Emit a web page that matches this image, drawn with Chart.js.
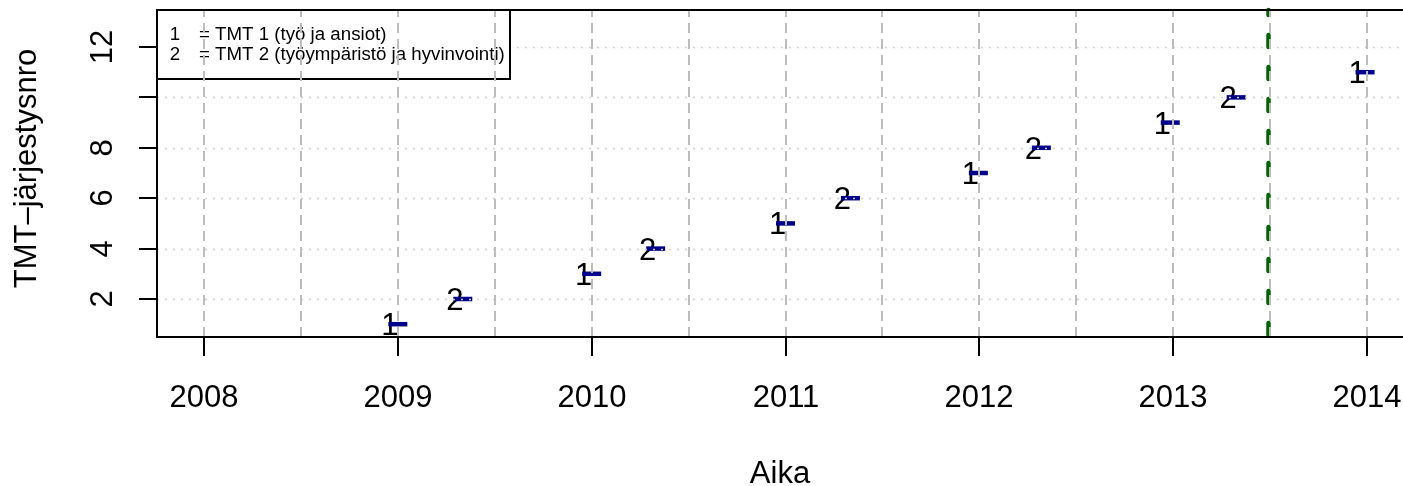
<!DOCTYPE html>
<html>
<head>
<meta charset="utf-8">
<script src="https://cdn.jsdelivr.net/npm/chart.js@4/dist/chart.umd.min.js"></script>
<style>
  html, body { margin: 0; padding: 0; background: #fff; }
  #wrap { width: 1403px; height: 486px; position: relative; }
</style>
</head>
<body>
<div id="wrap"><canvas id="tmt-chart"></canvas></div>
<script>
// julkaisut: aika (vuosi desimaalina), TMT-tyyppi ja järjestysnumero
const releaseTimes = [2009.0, 2009.335, 2010.0, 2010.33, 2011.0, 2011.335, 2011.995, 2012.32, 2012.985, 2013.325, 2013.99];
const tmtTypes = ["1", "2", "1", "2", "1", "2", "1", "2", "1", "2", "1"];
const orderNumbers = [1, 2, 3, 4, 5, 6, 7, 8, 9, 10, 11];

const cutoffTime = 2013.49;

const xTickYears = [2008, 2009, 2010, 2011, 2012, 2013, 2014];
const xGridLines = [2008, 2008.5, 2009, 2009.5, 2010, 2010.5, 2011, 2011.5, 2012, 2012.5, 2013, 2013.5, 2014];
const yTicks = [2, 4, 6, 8, 10, 12];
const yTickLabels = ["2", "4", "6", "8", "", "12"];

const legendKeys = ["1", "2"];
const legendTexts = ["= TMT 1 (työ ja ansiot)", "= TMT 2 (työympäristö ja hyvinvointi)"];

const FONT = "'Liberation Sans', Arial, Helvetica, sans-serif";

const rPlot = {
  id: "rPlot",
  beforeDatasetsDraw(chart) {
    const { ctx, chartArea: a, scales: { x, y } } = chart;
    ctx.save();
    // raja-aika, vihreä katkoviiva
    const gx = Math.round(x.getPixelForValue(cutoffTime)) + 0.5;
    ctx.strokeStyle = "#006400";
    ctx.lineWidth = 4.5;
    ctx.lineCap = "round";
    ctx.setLineDash([12, 20]);
    ctx.beginPath();
    ctx.moveTo(gx, a.bottom - 2);
    ctx.lineTo(gx, a.top);
    ctx.stroke();
    ctx.setLineDash([]);
    ctx.lineCap = "butt";

    // pisteiden tunnukset
    const meta = chart.getDatasetMeta(0);
    ctx.fillStyle = "#000";
    ctx.font = "31px " + FONT;
    ctx.textAlign = "center";
    ctx.textBaseline = "alphabetic";
    meta.data.forEach((pt, i) => {
      ctx.fillText(tmtTypes[i], pt.x - 8, pt.y + 11);
    });
    ctx.restore();
  },
  afterDatasetsDraw(chart) {
    const { ctx, chartArea: a, scales: { x, y } } = chart;
    ctx.save();

    // vaakasuora pisteviiva
    ctx.strokeStyle = "#cfcfcf";
    ctx.lineWidth = 1.6;
    ctx.setLineDash([2, 6]);
    yTicks.forEach(v => {
      const py = Math.round(y.getPixelForValue(v)) + 0.5;
      ctx.beginPath();
      ctx.moveTo(a.left, py);
      ctx.lineTo(a.right, py);
      ctx.stroke();
    });
    ctx.setLineDash([]);

    // selite
    const lx0 = a.left, ly0 = a.top, lx1 = 510, ly1 = 79;
    ctx.fillStyle = "#fff";
    ctx.fillRect(lx0, ly0, lx1 - lx0, ly1 - ly0);
    ctx.strokeStyle = "#000";
    ctx.lineWidth = 2;
    ctx.strokeRect(lx0, ly0, lx1 - lx0, ly1 - ly0);
    ctx.fillStyle = "#000";
    ctx.font = "18.7px " + FONT;
    ctx.textBaseline = "alphabetic";
    legendKeys.forEach((k, i) => {
      const by = 40 + i * 20;
      ctx.textAlign = "center";
      ctx.fillText(k, 175, by);
      ctx.textAlign = "left";
      ctx.fillText(legendTexts[i], 199, by);
    });

    // pystysuora katkoviiva
    ctx.strokeStyle = "#bdbdbd";
    ctx.lineWidth = 2;
    ctx.setLineDash([10, 6]);
    xGridLines.forEach(v => {
      const px = Math.round(x.getPixelForValue(v));
      ctx.beginPath();
      ctx.moveTo(px, a.bottom);
      ctx.lineTo(px, a.top);
      ctx.stroke();
    });
    ctx.setLineDash([]);

    // kehys
    ctx.strokeStyle = "#000";
    ctx.lineWidth = 2;
    ctx.beginPath();
    ctx.moveTo(a.right + 1, a.top);
    ctx.lineTo(a.left, a.top);
    ctx.lineTo(a.left, a.bottom);
    ctx.lineTo(a.right + 1, a.bottom);
    ctx.stroke();

    // x-akseli
    ctx.font = "31px " + FONT;
    ctx.textAlign = "center";
    ctx.textBaseline = "alphabetic";
    xTickYears.forEach(v => {
      const px = Math.round(x.getPixelForValue(v));
      ctx.beginPath();
      ctx.moveTo(px, a.bottom);
      ctx.lineTo(px, a.bottom + 19);
      ctx.stroke();
      ctx.fillText(String(v), px, 407);
    });
    ctx.fillText("Aika", (a.left + a.right) / 2, 483);

    // y-akseli
    yTicks.forEach((v, i) => {
      const py = Math.round(y.getPixelForValue(v));
      ctx.beginPath();
      ctx.moveTo(a.left - 18, py);
      ctx.lineTo(a.left, py);
      ctx.stroke();
      if (yTickLabels[i]) {
        ctx.save();
        ctx.translate(112, py);
        ctx.rotate(-Math.PI / 2);
        ctx.fillText(yTickLabels[i], 0, 0);
        ctx.restore();
      }
    });
    ctx.save();
    ctx.translate(36, (a.top + a.bottom) / 2 - 5);
    ctx.rotate(-Math.PI / 2);
    ctx.fillText("TMT–järjestysnro", 0, 0);
    ctx.restore();

    ctx.restore();
  }
};

const points = releaseTimes.map((t, i) => ({ x: t, y: orderNumbers[i] }));

new Chart(document.getElementById("tmt-chart").getContext("2d"), {
  type: "scatter",
  data: {
    datasets: [{
      label: "TMT",
      data: points,
      pointStyle: "line",
      pointRadius: 9.5,
      pointBorderWidth: 4.5,
      pointBorderColor: "#00008B",
      pointBackgroundColor: "#00008B",
      showLine: false,
    }],
  },
  options: {
    responsive: true,
    maintainAspectRatio: false,
    devicePixelRatio: 1,
    animation: false,
    events: [],
    layout: { autoPadding: false, padding: { left: 157, top: 10, right: 0, bottom: 149 } },
    scales: {
      x: { type: "linear", min: 2007.7575, max: 2014.1857, display: false },
      y: { type: "linear", min: 0.492, max: 13.468, display: false },
    },
    plugins: {
      legend: { display: false },
      tooltip: { enabled: false },
    },
  },
  plugins: [rPlot],
});
</script>
</body>
</html>
